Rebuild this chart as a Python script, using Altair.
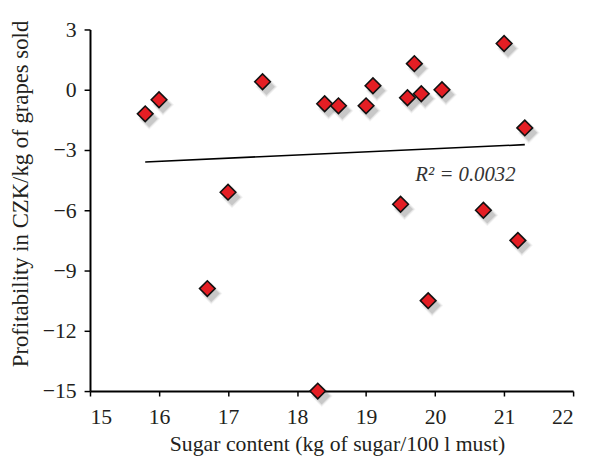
import altair as alt
import pandas as pd

# Data
sugar = [15.8, 16.0, 17.0, 16.7, 17.5, 18.3, 18.4, 18.6, 19.0, 19.1,
         19.6, 19.7, 19.8, 20.1, 21.0, 21.3, 19.5, 20.7, 21.2, 19.9]
profit = [-1.2, -0.5, -5.1, -9.9, 0.4, -15.0, -0.7, -0.8, -0.8, 0.2,
          -0.4, 1.3, -0.2, 0.0, 2.3, -1.9, -5.7, -6.0, -7.5, -10.5]
x_ticks = [15, 16, 17, 18, 19, 20, 21, 22]
y_ticks = [-15, -12, -9, -6, -3, 0, 3]
r2_label = "R² = 0.0032"
x_title = "Sugar content (kg of sugar/100 l must)"
y_title = "Profitability in CZK/kg of grapes sold"

df = pd.DataFrame({"sugar": sugar, "profit": profit})

FONT = "'Liberation Serif', 'Times New Roman', serif"
TXT = "#231f20"

xs = alt.Scale(domain=[15, 22], nice=False, zero=False)
ys = alt.Scale(domain=[-15, 3], nice=False, zero=False)

x_enc = alt.X("sugar:Q", scale=xs,
              axis=alt.Axis(values=x_ticks, format="d", title=x_title,
                            tickSize=5, labelPadding=11, titleX=250, titleY=60,
                            titleFontSize=22,
                            titleBaseline="alphabetic", titleAlign="center"))
y_enc = alt.Y("profit:Q", scale=ys,
              axis=alt.Axis(values=y_ticks, format="d", title=y_title,
                            tickSize=6, labelPadding=8, titleX=-63, titleY=166,
                            titleFontSize=23,
                            titleAngle=270, titleBaseline="alphabetic",
                            titleAlign="center"))

base = alt.Chart(df)

shadows = []
for size, op in [(500, 0.06), (390, 0.10), (290, 0.16)]:
    shadows.append(
        base.mark_point(shape="diamond", filled=True, color="#444444",
                        size=size, opacity=op, xOffset=4, yOffset=5)
        .encode(x=x_enc, y=y_enc)
    )

points = base.mark_point(shape="diamond", filled=True, fill="#e41e24",
                         stroke="#111111", strokeWidth=1.6, size=250,
                         opacity=1).encode(x=x_enc, y=y_enc)

trend = base.transform_regression("sugar", "profit").mark_line(
    color="#000000", strokeWidth=1.6).encode(x=x_enc, y=y_enc)

label = alt.Chart(pd.DataFrame({"t": [r2_label]})).mark_text(
    font=FONT, fontSize=21, fontStyle="italic", align="center",
    baseline="alphabetic", color="#333333").encode(
    x=alt.datum(20.44), y=alt.datum(-4.52), text="t:N")

chart = alt.layer(trend, *shadows, points, label).properties(
    width=489, height=366,
    autosize=alt.AutoSizeParams(type="none"),
    padding={"left": 83, "top": 19, "right": 9, "bottom": 64},
).configure_view(stroke=None).configure_axis(
    grid=False, domainColor="#000000", domainWidth=2, tickColor="#000000",
    tickWidth=1.5, labelFont=FONT, labelFontSize=22, labelColor=TXT,
    titleFont=FONT, titleFontWeight="normal", titleColor=TXT,
)

chart.save("out.html", embed_options={"renderer": "svg", "actions": False})
